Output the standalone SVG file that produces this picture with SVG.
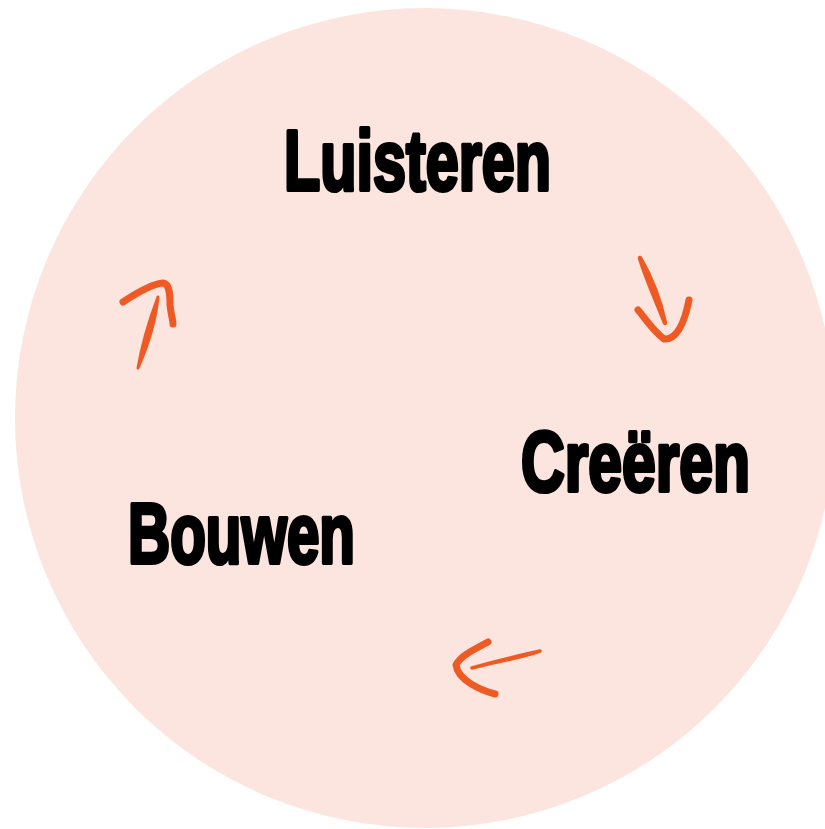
<svg xmlns="http://www.w3.org/2000/svg" width="825" height="829" viewBox="0 0 825 829">
<style>
.lbl{font-family:"Liberation Sans",Arial,sans-serif;font-weight:bold;font-size:80px;fill:#000;stroke:#000;stroke-width:4;stroke-linejoin:round}
.head{fill:none;stroke:#EF5A24;stroke-width:7;stroke-linecap:round;stroke-linejoin:round}
.shaft{fill:#EF5A24;stroke:#EF5A24;stroke-linejoin:round}
</style>
<rect width="825" height="829" fill="#ffffff"/>
<circle cx="425" cy="418" r="410" fill="#FCE5DF"/>
<g id="node-luisteren"><text class="lbl" transform="translate(284,190) scale(1,1.06)" textLength="267" lengthAdjust="spacingAndGlyphs">Luisteren</text></g>
<g id="node-creeren"><text class="lbl" transform="translate(521,491) scale(1,1.06)" textLength="229" lengthAdjust="spacingAndGlyphs">Creëren</text></g>
<g id="node-bouwen"><text class="lbl" transform="translate(128,563) scale(1,1.06)" textLength="227" lengthAdjust="spacingAndGlyphs">Bouwen</text></g>
<g id="connectors">
<g id="arrow-1">
<path class="shaft" stroke-width="3" d="M138,368 C142,345 150,318 158,297 C156,318 148,345 138,368 Z"/>
<path class="head" d="M123,302 C138,292 152,284 163,283 C170,284 170,295 170,305 C171,315 173,320 173,324"/>
</g>
<g id="arrow-2">
<path class="shaft" stroke-width="4.5" d="M640,258 C650,275 660,300 665,323 C656,300 646,278 640,258 Z"/>
<path class="head" d="M638,310 C645,318 652,330 664,339 C676,340 684,325 689,300"/>
</g>
<g id="arrow-3">
<path class="shaft" stroke-width="3.5" d="M540,651 C520,658 495,662 472,668 C495,661 518,656 540,651 Z"/>
<path class="head" d="M488,642 C475,649 460,656 456,665 C458,680 480,690 495,694"/>
</g>
</g>
</svg>
